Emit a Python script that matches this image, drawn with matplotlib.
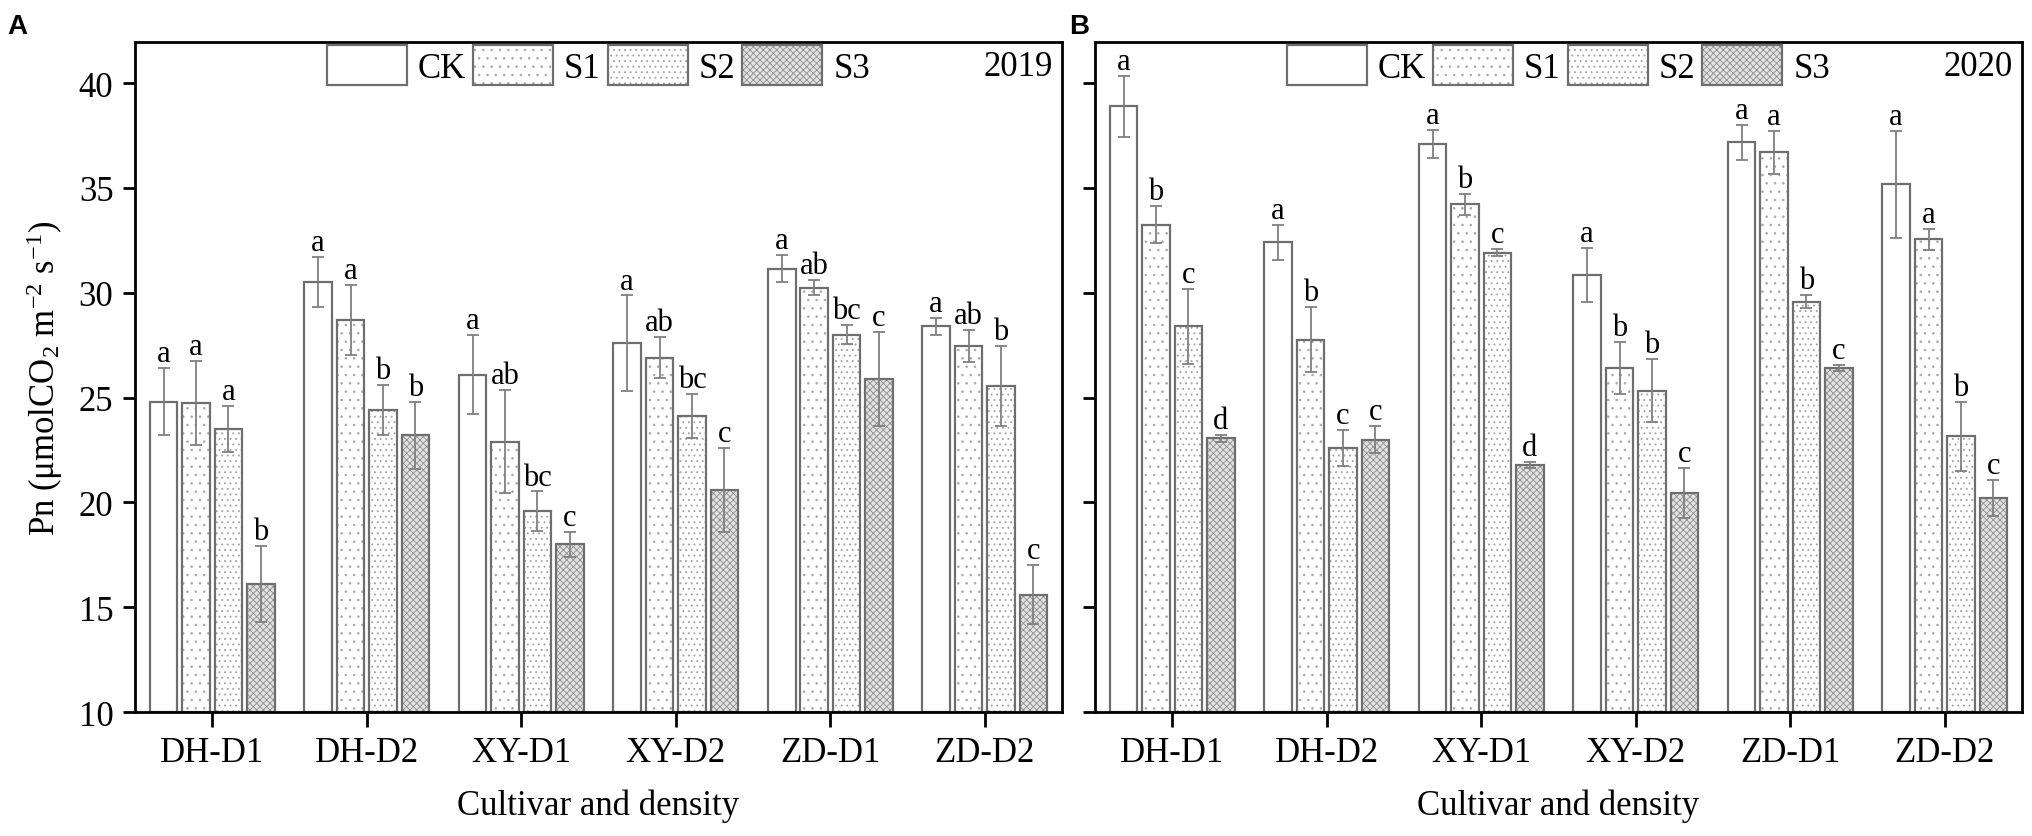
import numpy as np
import matplotlib
matplotlib.use("Agg")
import matplotlib.pyplot as plt
from matplotlib.legend_handler import HandlerTuple

plt.rcParams['font.family'] = ['Liberation Serif', 'DejaVu Serif']
plt.rcParams['mathtext.fontset'] = 'custom'
plt.rcParams['mathtext.rm'] = 'Liberation Serif'
plt.rcParams['mathtext.it'] = 'Liberation Serif:italic'
plt.rcParams['hatch.linewidth'] = 0.6

categories = ['DH-D1', 'DH-D2', 'XY-D1', 'XY-D2', 'ZD-D1', 'ZD-D2']
series = ['CK', 'S1', 'S2', 'S3']

# 2019
mean_2019 = {
    'CK': [24.8, 30.5, 26.1, 27.6, 31.15, 28.4],
    'S1': [24.75, 28.7, 22.9, 26.9, 30.25, 27.47],
    'S2': [23.5, 24.4, 19.57, 24.1, 28.0, 25.55],
    'S3': [16.1, 23.2, 18.0, 20.6, 25.9, 15.6],
}
err_2019 = {
    'CK': [1.6, 1.2, 1.9, 2.27, 0.65, 0.4],
    'S1': [2.0, 1.65, 2.45, 0.97, 0.35, 0.75],
    'S2': [1.1, 1.2, 0.95, 1.05, 0.45, 1.9],
    'S3': [1.8, 1.6, 0.6, 2.0, 2.25, 1.4],
}
letters_2019 = {
    'CK': ['a', 'a', 'a', 'a', 'a', 'a'],
    'S1': ['a', 'a', 'ab', 'ab', 'ab', 'ab'],
    'S2': ['a', 'b', 'bc', 'bc', 'bc', 'b'],
    'S3': ['b', 'b', 'c', 'c', 'c', 'c'],
}

# 2020
mean_2020 = {
    'CK': [38.9, 32.4, 37.1, 30.85, 37.17, 35.18],
    'S1': [33.25, 27.76, 34.23, 26.4, 36.7, 32.56],
    'S2': [28.4, 22.6, 31.92, 25.33, 29.58, 23.15],
    'S3': [23.05, 23.0, 21.78, 20.45, 26.41, 20.2],
}
err_2020 = {
    'CK': [1.45, 0.83, 0.68, 1.3, 0.85, 2.55],
    'S1': [0.87, 1.55, 0.5, 1.25, 1.03, 0.5],
    'S2': [1.8, 0.87, 0.17, 1.5, 0.3, 1.65],
    'S3': [0.18, 0.65, 0.15, 1.2, 0.14, 0.85],
}
letters_2020 = {
    'CK': ['a', 'a', 'a', 'a', 'a', 'a'],
    'S1': ['b', 'b', 'b', 'b', 'a', 'a'],
    'S2': ['c', 'c', 'c', 'b', 'b', 'b'],
    'S3': ['d', 'c', 'd', 'c', 'c', 'c'],
}

years = ['2019', '2020']
yticks = [10, 15, 20, 25, 30, 35, 40]

styles = {
    'CK': dict(facecolor='white', hatch=None, hcol='white'),
    'S1': dict(facecolor='white', hatch='..', hcol='#a8a8a8'),
    'S2': dict(facecolor='white', hatch='...', hcol='#a0a0a0'),
    'S3': dict(facecolor='#e2e2e2', hatch='xxxxx', hcol='#8e8e8e'),
}
edge = '#6e6e6e'
ecol = '#808080'

fig = plt.figure(figsize=(20.33, 8.37), dpi=100)
axA = fig.add_axes([0.0664, 0.1481, 0.4560, 0.8005])
axB = fig.add_axes([0.5386, 0.1481, 0.4560, 0.8005])

x = np.arange(len(categories))
width = 0.18
pitch = 0.21
FS = 25

for ax, year, means, errs, lets in [
        (axA, years[0], mean_2019, err_2019, letters_2019),
        (axB, years[1], mean_2020, err_2020, letters_2020)]:
    handles = []
    for i, s in enumerate(series):
        xs = x + (i - 1.5) * pitch
        heights = np.array(means[s]) - 10
        b1 = ax.bar(xs, heights, width, bottom=10,
                    facecolor=styles[s]['facecolor'], hatch=styles[s]['hatch'],
                    edgecolor=styles[s]['hcol'], linewidth=0, zorder=2)
        b2 = ax.bar(xs, heights, width, bottom=10, fill=False,
                    edgecolor=edge, linewidth=1.6, zorder=2.5)
        handles.append((b1, b2))
        ax.errorbar(xs, means[s], yerr=errs[s], fmt='none', ecolor=ecol,
                    elinewidth=1.3, capsize=4.5, capthick=1.3, zorder=3)
        for xi, m, e, t in zip(xs, means[s], errs[s], lets[s]):
            ax.annotate(t, (xi, m + e), xytext=(0, 5), textcoords='offset points',
                        ha='center', va='baseline', fontsize=22)
    ax.set_xlim(-0.5, 5.5)
    ax.set_ylim(10, 41.96)
    ax.set_yticks(yticks)
    ax.set_xticks(x)
    ax.set_xticklabels(categories, fontsize=FS)
    ax.tick_params(axis='x', direction='out', length=11, width=2, pad=6)
    ax.tick_params(axis='y', direction='out', length=8.5, width=2, pad=7, labelsize=FS)
    for sp in ax.spines.values():
        sp.set_linewidth(2)
    ax.set_xlabel('Cultivar and density', fontsize=FS, labelpad=14)
    ax.legend(handles=handles, labels=series, loc='upper left',
              bbox_to_anchor=(0.207, 0.995), ncol=4, frameon=False,
              fontsize=FS, handlelength=2.3, handleheight=1.4,
              handletextpad=0.32, columnspacing=0.2, borderpad=0,
              borderaxespad=0, handler_map={tuple: HandlerTuple(ndivide=1)})
    ax.text(0.990, 0.964, year, transform=ax.transAxes, ha='right', va='center',
            fontsize=FS)

axA.set_ylabel('Pn (μmolCO$_2$ m$^{-2}$ s$^{-1}$)', fontsize=FS, labelpad=10)
axB.set_yticklabels([])

fig.text(0.0035, 0.959, 'A', fontsize=20, fontweight='bold',
         family=['Liberation Sans', 'DejaVu Sans'], va='baseline', ha='left')
fig.text(0.526, 0.959, 'B', fontsize=20, fontweight='bold',
         family=['Liberation Sans', 'DejaVu Sans'], va='baseline', ha='left')

fig.savefig('out.png', dpi=100)
